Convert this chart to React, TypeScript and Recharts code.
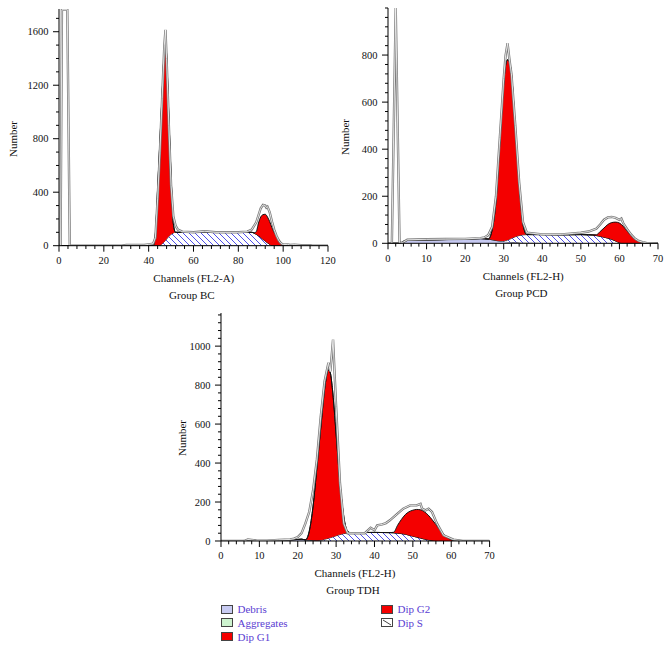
import { Area, ComposedChart, Line, XAxis, YAxis } from "recharts";

// ---- Group BC (FL2-A) ----
const BC_CH = [0, 5, 40, 42, 43, 44, 45, 46, 47, 47.5, 48, 49, 50, 51, 52, 54, 60, 70, 80, 86, 87, 88, 89, 90, 91, 92, 93, 94, 95, 96, 97, 98, 99, 100, 110, 120];
const BC_DEBRIS = [0, 0, 2, 2, 1, 0, 0, 0, 0, 0, 0, 0, 0, 0, 0, 0, 0, 0, 0, 0, 0, 0, 0, 0, 0, 0, 0, 0, 0, 0, 0, 0, 0, 0, 0, 0];
const BC_S = [0, 0, 0, 0, 0, 0, 0, 15, 30, 40, 50, 70, 85, 95, 100, 100, 102, 100, 100, 100, 95, 85, 75, 62, 48, 35, 22, 10, 0, 0, 0, 0, 0, 0, 0, 0];
const BC_G1 = [0, 0, 0, 0, 90, 430, 780, 1120, 1450, 1530, 1380, 900, 440, 70, 0, 0, 0, 0, 0, 0, 0, 0, 0, 0, 0, 0, 0, 0, 0, 0, 0, 0, 0, 0, 0, 0];
const BC_G2 = [0, 0, 0, 0, 0, 0, 0, 0, 0, 0, 0, 0, 0, 0, 0, 0, 0, 0, 0, 0, 0, 20, 95, 153, 184, 200, 193, 170, 135, 100, 72, 45, 20, 0, 0, 0];
const BC_RAW_CH = [0, 0.7, 1.3, 3.7, 4.8, 28, 30, 38, 40, 42, 43, 44, 45, 46, 47, 47.5, 48, 49, 50, 51, 52, 53, 55, 60, 65, 70, 80, 84, 86, 88, 90, 91, 92, 92.5, 93, 94, 95, 96, 97, 98, 99, 100, 102, 103, 105, 108, 112, 113, 120];
const BC_RAW = [0, 0, 1765, 1765, 0, 0, 5, 5, 10, 15, 60, 350, 700, 1100, 1500, 1615, 1400, 900, 450, 220, 150, 120, 105, 100, 108, 100, 100, 105, 120, 175, 280, 305, 300, 285, 292, 250, 180, 120, 75, 40, 18, 8, 10, 5, 8, 3, 3, 0, 0];
const BC_X_LABELS = [0, 20, 40, 60, 80, 100, 120];
const BC_Y_LABELS = [0, 400, 800, 1200, 1600];

// ---- Group PCD (FL2-H) ----
const PCD_CH = [0, 3, 4, 5, 10, 15, 20, 24, 26, 27, 28, 29, 30, 30.5, 31, 31.5, 32, 33, 34, 35, 36, 40, 45, 50, 52, 54, 55, 56, 57, 58, 59, 60, 61, 62, 63, 64, 65, 66, 67, 70];
const PCD_DEBRIS = [0, 0, 8, 12, 14, 16, 17, 20, 18, 15, 12, 10, 8, 7, 6, 5, 5, 4, 3, 2, 2, 1, 0, 0, 0, 0, 0, 0, 0, 0, 0, 0, 0, 0, 0, 0, 0, 0, 0, 0];
const PCD_S = [0, 0, 0, 0, 0, 0, 0, 0, 0, 0, 0, 0, 2, 5, 8, 12, 16, 24, 30, 34, 35, 36, 36, 37, 36, 33, 30, 26, 22, 17, 10, 3, 0, 0, 0, 0, 0, 0, 0, 0];
const PCD_G1 = [0, 0, 0, 0, 0, 0, 0, 0, 0, 42, 168, 420, 670, 745, 766, 753, 700, 465, 227, 44, 0, 0, 0, 0, 0, 0, 0, 0, 0, 0, 0, 0, 0, 0, 0, 0, 0, 0, 0, 0];
const PCD_G2 = [0, 0, 0, 0, 0, 0, 0, 0, 0, 0, 0, 0, 0, 0, 0, 0, 0, 0, 0, 0, 0, 0, 0, 0, 0, 3, 20, 39, 58, 71, 80, 83, 72, 52, 33, 18, 9, 4, 0, 0];
const PCD_RAW_CH = [0, 1, 2, 3, 4, 5, 10, 15, 20, 24, 25, 26, 27, 28, 29, 30, 30.5, 31, 31.5, 32, 33, 34, 35, 36, 40, 45, 48, 50, 52, 54, 55, 56, 57, 58, 59, 60, 60.5, 61, 62, 63, 64, 65, 66, 67, 70];
const PCD_RAW = [0, 0, 1000, 0, 5, 15, 17, 18, 19, 22, 25, 35, 70, 200, 450, 700, 800, 850, 780, 720, 500, 260, 90, 45, 38, 38, 42, 45, 50, 62, 80, 100, 110, 112, 108, 100, 105, 85, 60, 38, 20, 10, 5, 2, 0];
const PCD_X_LABELS = [0, 10, 20, 30, 40, 50, 60, 70];
const PCD_Y_LABELS = [0, 200, 400, 600, 800];

// ---- Group TDH (FL2-H) ----
const TDH_CH = [0, 6, 7, 8, 9, 10, 14, 15, 18, 20, 21, 22, 23, 24, 25, 26, 27, 28, 28.5, 29, 30, 31, 32, 33, 34, 35, 40, 44, 45, 46, 47, 48, 49, 50, 51, 52, 53, 54, 55, 56, 57, 58, 59, 60, 61, 63, 70];
const TDH_DEBRIS = [0, 0, 5, 6, 3, 2, 2, 5, 6, 8, 9, 6, 5, 4, 3, 2, 1, 0, 0, 0, 0, 0, 0, 0, 0, 0, 0, 0, 0, 0, 0, 0, 0, 0, 0, 0, 0, 0, 0, 0, 0, 0, 0, 0, 0, 0, 0];
const TDH_S = [0, 0, 0, 0, 0, 0, 0, 0, 0, 0, 0, 0, 0, 0, 0, 3, 8, 14, 17, 20, 27, 33, 38, 41, 42, 43, 44, 43, 42, 40, 38, 35, 30, 25, 20, 15, 10, 6, 3, 0, 0, 0, 0, 0, 0, 0, 0];
const TDH_G1 = [0, 0, 0, 0, 0, 0, 0, 0, 0, 0, 0, 0, 45, 175, 375, 575, 770, 864, 845, 768, 522, 266, 87, 8, 0, 0, 0, 0, 0, 0, 0, 0, 0, 0, 0, 0, 0, 0, 0, 0, 0, 0, 0, 0, 0, 0, 0];
const TDH_G2 = [0, 0, 0, 0, 0, 0, 0, 0, 0, 0, 0, 0, 0, 0, 0, 0, 0, 0, 0, 0, 0, 0, 0, 0, 0, 0, 0, 0, 3, 40, 72, 100, 120, 133, 142, 145, 140, 127, 107, 85, 58, 35, 18, 6, 0, 0, 0];
const TDH_RAW_CH = [0, 6, 7, 8, 9, 12, 15, 18, 19, 20, 21, 22, 23, 24, 25, 26, 27, 28, 28.5, 29.2, 30, 31, 32, 33, 35, 37.5, 39, 40, 40.7, 42, 43, 44, 46, 47.5, 49.3, 51, 52, 52.4, 53.3, 54.1, 55, 56.3, 58, 60.6, 63, 70];
const TDH_RAW = [0, 0, 8, 6, 3, 2, 6, 8, 12, 20, 40, 90, 150, 260, 420, 640, 820, 915, 870, 1034, 690, 300, 90, 40, 40, 40, 68, 55, 80, 85, 92, 106, 140, 166, 183, 183, 191, 166, 157, 166, 149, 89, 29, 7, 0, 0];
const TDH_X_LABELS = [0, 10, 20, 30, 40, 50, 60, 70];
const TDH_Y_LABELS = [0, 200, 400, 600, 800, 1000];

const LEGEND_LEFT = ["Debris", "Aggregates", "Dip G1"];
const LEGEND_RIGHT = ["Dip G2", "Dip S"];

const FONT = "'Liberation Serif', 'DejaVu Serif', serif";
const RED = "#f40000";
const Y_W = 50;
const X_H = 40;

type Panel = {
  title: string;
  xTitle: string;
  channels: number[];
  debris: number[];
  dipS: number[];
  dipG1: number[];
  dipG2: number[];
  rawChannels: number[];
  raw: number[];
  xLabels: number[];
  yLabels: number[];
  xStep: number;
  yStep: number;
  xMax: number;
  yMax: number;
  left: number;
  top: number;
  w: number;
  h: number;
  numberX: number;
};

function steps(max: number, step: number) {
  const out: number[] = [];
  for (let v = 0; v <= max + 1e-6; v += step) out.push(v);
  return out;
}

function XTick(props: any) {
  const { x, y, payload, labels } = props;
  const major = labels.includes(payload.value);
  return (
    <g>
      <line x1={x} x2={x} y1={y} y2={y + (major ? 6 : 3.3)} stroke="#000" strokeWidth={1} />
      {major && (
        <text x={x} y={y + 18.5} textAnchor="middle" fontSize={10.5} fontFamily={FONT} fill="#111">
          {payload.value}
        </text>
      )}
    </g>
  );
}

function YTick(props: any) {
  const { x, y, payload, labels } = props;
  const major = labels.includes(payload.value);
  return (
    <g>
      <line x1={x} x2={x - (major ? 6 : 3)} y1={y} y2={y} stroke="#000" strokeWidth={1} />
      {major && (
        <text x={x - 10.5} y={y + 3.6} textAnchor="end" fontSize={10.5} fontFamily={FONT} fill="#111">
          {payload.value}
        </text>
      )}
    </g>
  );
}

function Histogram({ p }: { p: Panel }) {
  const rows = p.channels.map((c, i) => ({
    c,
    debris: p.debris[i],
    dipS: p.dipS[i],
    dipG1: p.dipG1[i],
    dipG2: p.dipG2[i],
  }));
  const rawRows = p.rawChannels.map((c, i) => ({ c, raw: p.raw[i] }));
  const text = { position: "absolute" as const, fontFamily: FONT, fontSize: 11, color: "#111", whiteSpace: "nowrap" as const };
  const cx = p.left + p.w / 2;
  const bottom = p.top + p.h;

  return (
    <>
      <div style={{ position: "absolute", left: p.left - Y_W, top: p.top - 10 }}>
        <ComposedChart
          width={p.w + Y_W + 15}
          height={p.h + 10 + X_H}
          data={rows}
          margin={{ top: 10, right: 15, bottom: 0, left: 0 }}
        >
          <XAxis
            type="number"
            dataKey="c"
            domain={[0, p.xMax]}
            ticks={steps(p.xMax, p.xStep)}
            interval={0}
            allowDataOverflow
            height={X_H}
            tickLine={false}
            tickSize={0}
            tickMargin={0}
            axisLine={{ stroke: "#000", strokeWidth: 1 }}
            tick={(t: any) => <XTick {...t} labels={p.xLabels} />}
          />
          <YAxis
            type="number"
            domain={[0, p.yMax]}
            ticks={steps(p.yMax, p.yStep)}
            interval={0}
            allowDataOverflow
            width={Y_W}
            tickLine={false}
            tickSize={0}
            tickMargin={0}
            axisLine={{ stroke: "#000", strokeWidth: 1 }}
            tick={(t: any) => <YTick {...t} labels={p.yLabels} />}
          />
          <Area stackId="m" type="monotone" dataKey="debris" fill="#c6c9f1" fillOpacity={1} stroke="#333" strokeWidth={0.8} dot={false} activeDot={false} isAnimationActive={false} />
          <Area stackId="m" type="monotone" dataKey="dipS" fill="url(#dipSHatch)" fillOpacity={1} stroke="#333" strokeWidth={1} dot={false} activeDot={false} isAnimationActive={false} />
          <Area stackId="m" type="monotone" dataKey="dipG1" fill={RED} fillOpacity={1} stroke="#111" strokeWidth={1} dot={false} activeDot={false} isAnimationActive={false} />
          <Area stackId="m" type="monotone" dataKey="dipG2" fill={RED} fillOpacity={1} stroke="#111" strokeWidth={1} dot={false} activeDot={false} isAnimationActive={false} />
          <Line data={rawRows} dataKey="raw" type="linear" stroke="#777" strokeWidth={2.4} dot={false} activeDot={false} isAnimationActive={false} />
          <Line data={rawRows} dataKey="raw" type="linear" stroke="#ffffff" strokeWidth={0.8} dot={false} activeDot={false} isAnimationActive={false} />
        </ComposedChart>
      </div>
      <div style={{ ...text, left: cx, top: bottom + 32.5, transform: "translate(-50%, -50%)" }}>{p.xTitle}</div>
      <div style={{ ...text, left: cx - 2, top: bottom + 49.3, transform: "translate(-50%, -50%)" }}>{p.title}</div>
      <div
        style={{
          ...text,
          left: p.numberX,
          top: p.top + p.h * 0.55,
          transform: "translate(-50%, -50%) rotate(-90deg)",
        }}
      >
        Number
      </div>
    </>
  );
}

const PANELS: Panel[] = [
  {
    title: "Group BC", xTitle: "Channels (FL2-A)",
    channels: BC_CH, debris: BC_DEBRIS, dipS: BC_S, dipG1: BC_G1, dipG2: BC_G2,
    rawChannels: BC_RAW_CH, raw: BC_RAW, xLabels: BC_X_LABELS, yLabels: BC_Y_LABELS,
    xStep: 4, yStep: 100, xMax: 120, yMax: 1770,
    left: 59.3, top: 9, w: 269, h: 236.7, numberX: 12.7,
  },
  {
    title: "Group PCD", xTitle: "Channels (FL2-H)",
    channels: PCD_CH, debris: PCD_DEBRIS, dipS: PCD_S, dipG1: PCD_G1, dipG2: PCD_G2,
    rawChannels: PCD_RAW_CH, raw: PCD_RAW, xLabels: PCD_X_LABELS, yLabels: PCD_Y_LABELS,
    xStep: 2, yStep: 40, xMax: 70, yMax: 1000,
    left: 388.3, top: 8, w: 270, h: 235.3, numberX: 345,
  },
  {
    title: "Group TDH", xTitle: "Channels (FL2-H)",
    channels: TDH_CH, debris: TDH_DEBRIS, dipS: TDH_S, dipG1: TDH_G1, dipG2: TDH_G2,
    rawChannels: TDH_RAW_CH, raw: TDH_RAW, xLabels: TDH_X_LABELS, yLabels: TDH_Y_LABELS,
    xStep: 2, yStep: 40, xMax: 70, yMax: 1170,
    left: 220.7, top: 312.7, w: 268.6, h: 228, numberX: 181.7,
  },
];

const SWATCH: Record<string, string> = {
  Debris: "#c8cbf2",
  Aggregates: "#cdf3cf",
  "Dip G1": RED,
  "Dip G2": RED,
  "Dip S": "#ffffff",
};

function LegendItem({ name, x, y }: { name: string; x: number; y: number }) {
  return (
    <div style={{ position: "absolute", left: x, top: y - 7, height: 14, display: "flex", alignItems: "center" }}>
      <svg width={12} height={9} style={{ display: "block" }}>
        <rect x={0.5} y={0.5} width={11} height={8} fill={SWATCH[name]} stroke="#444" strokeWidth={1} />
        {name === "Dip S" && <line x1={2} y1={2} x2={10} y2={7} stroke="#444" strokeWidth={1} />}
      </svg>
      <span style={{ marginLeft: 5, fontFamily: FONT, fontSize: 11, color: "#5a3dd2", whiteSpace: "nowrap" }}>{name}</span>
    </div>
  );
}

export default function App() {
  return (
    <div style={{ position: "absolute", left: 0, top: 0, width: 671, height: 649, background: "#fff", overflow: "hidden" }}>
      <svg width={0} height={0} style={{ position: "absolute" }}>
        <defs>
          <pattern id="dipSHatch" patternUnits="userSpaceOnUse" width={6} height={6}>
            <rect width={6} height={6} fill="#fff" />
            <path d="M0,0 L6,6 M5,-1 L7,1 M-1,5 L1,7" stroke="#3a3ae6" strokeWidth={0.9} />
          </pattern>
        </defs>
      </svg>
      {PANELS.map((p) => (
        <Histogram key={p.title} p={p} />
      ))}
      {LEGEND_LEFT.map((n, i) => (
        <LegendItem key={n} name={n} x={220.5} y={609 + i * 13.9} />
      ))}
      {LEGEND_RIGHT.map((n, i) => (
        <LegendItem key={n} name={n} x={380.5} y={609 + i * 13.9} />
      ))}
    </div>
  );
}
